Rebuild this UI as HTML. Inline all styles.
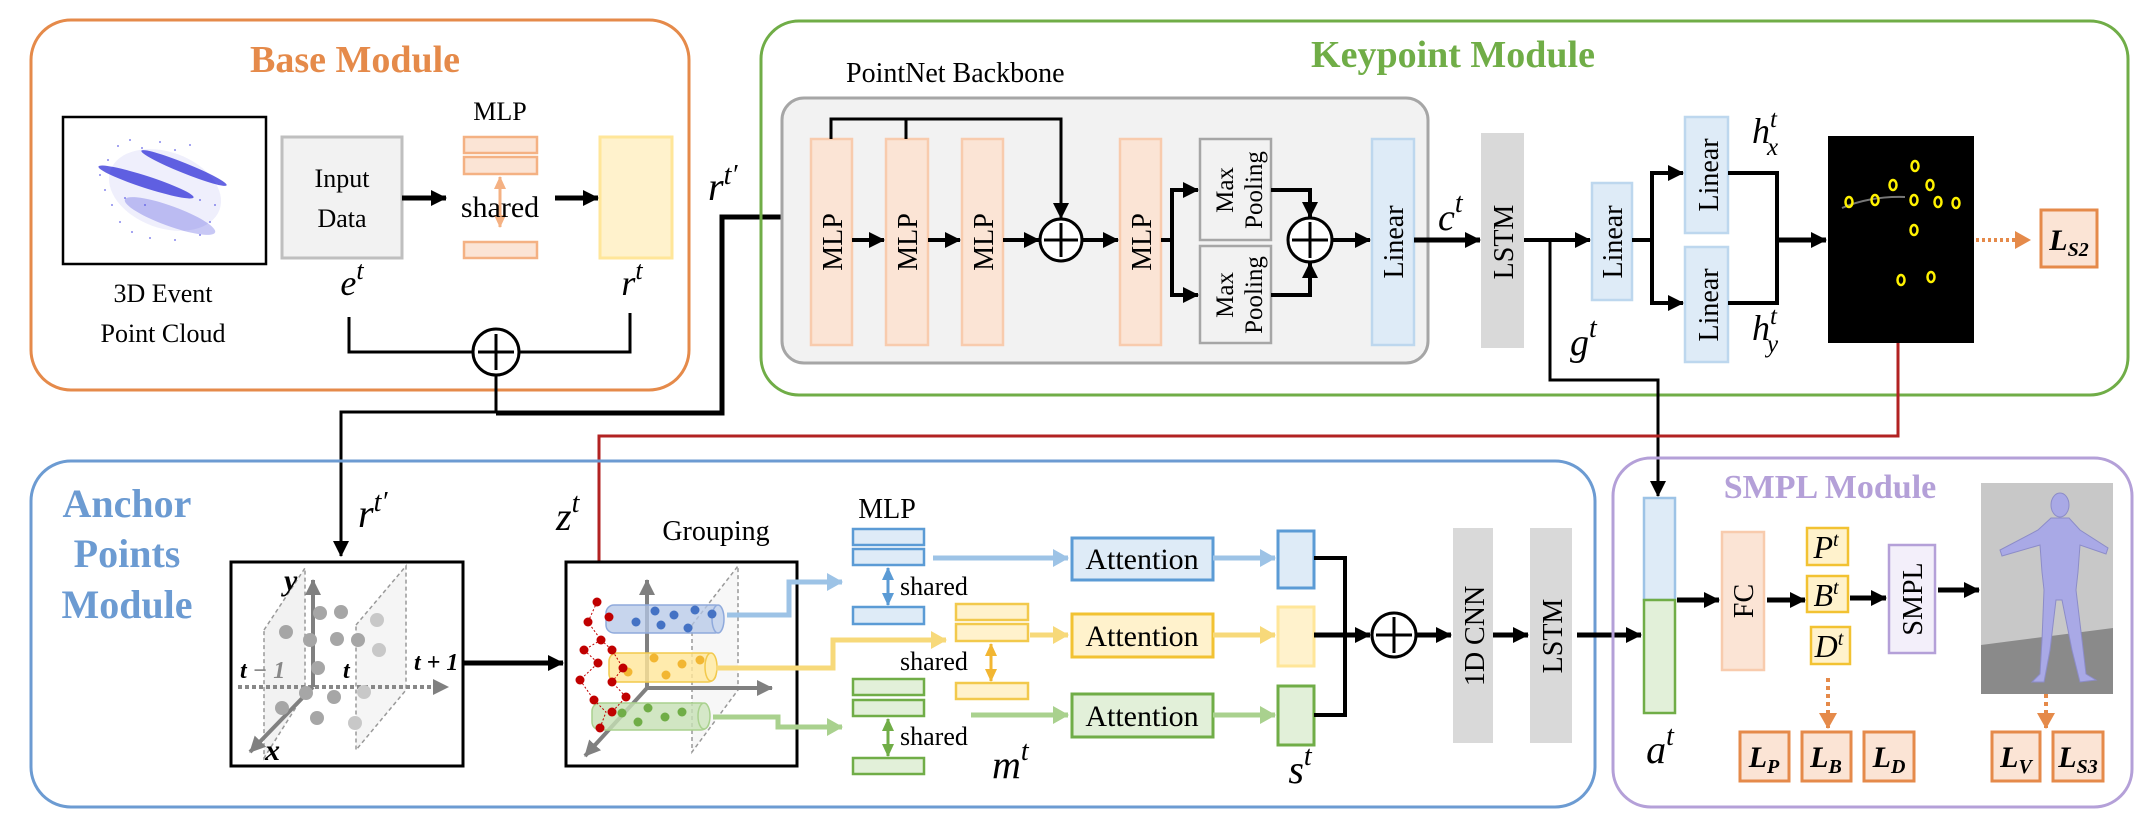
<!DOCTYPE html>
<html><head><meta charset="utf-8"><style>
html,body{margin:0;padding:0;background:#fff}
svg{display:block}
svg, text{font-family:"Liberation Serif",serif}
.m{font-style:italic}
</style></head><body>
<svg width="2156" height="826" viewBox="0 0 2156 826" xmlns="http://www.w3.org/2000/svg" font-family="Liberation Serif, serif">
<defs>
<marker id="a" markerUnits="userSpaceOnUse" markerWidth="18" markerHeight="18" refX="15" refY="9" orient="auto"><path d="M0,1 L16,9 L0,17 z" fill="#000"/></marker>
<marker id="ar" markerUnits="userSpaceOnUse" markerWidth="16" markerHeight="16" refX="13" refY="8" orient="auto"><path d="M0,1 L14,8 L0,15 z" fill="#B22222"/></marker>
<marker id="ao" markerUnits="userSpaceOnUse" markerWidth="18" markerHeight="20" refX="15" refY="10" orient="auto"><path d="M0,1 L16,10 L0,19 z" fill="#E58A4A"/></marker>
<marker id="ab" markerUnits="userSpaceOnUse" markerWidth="18" markerHeight="20" refX="15" refY="10" orient="auto"><path d="M0,1 L16,10 L0,19 z" fill="#9DC3E6"/></marker>
<marker id="ay" markerUnits="userSpaceOnUse" markerWidth="18" markerHeight="20" refX="15" refY="10" orient="auto"><path d="M0,1 L16,10 L0,19 z" fill="#F7D97A"/></marker>
<marker id="ag" markerUnits="userSpaceOnUse" markerWidth="18" markerHeight="20" refX="15" refY="10" orient="auto"><path d="M0,1 L16,10 L0,19 z" fill="#A9D18E"/></marker>
<marker id="ag2" markerUnits="userSpaceOnUse" markerWidth="18" markerHeight="18" refX="15" refY="9" orient="auto"><path d="M0,1 L16,9 L0,17 z" fill="#808080"/></marker>
<marker id="dB" markerUnits="userSpaceOnUse" markerWidth="14" markerHeight="14" refX="12" refY="7" orient="auto"><path d="M0,1 L13,7 L0,13 z" fill="#5B9BD5"/></marker>
<marker id="dY" markerUnits="userSpaceOnUse" markerWidth="14" markerHeight="14" refX="12" refY="7" orient="auto"><path d="M0,1 L13,7 L0,13 z" fill="#F2B632"/></marker>
<marker id="dG" markerUnits="userSpaceOnUse" markerWidth="14" markerHeight="14" refX="12" refY="7" orient="auto"><path d="M0,1 L13,7 L0,13 z" fill="#70AD47"/></marker>
<marker id="dO" markerUnits="userSpaceOnUse" markerWidth="14" markerHeight="14" refX="12" refY="7" orient="auto"><path d="M0,1 L13,7 L0,13 z" fill="#F4B183"/></marker>
</defs>

<!-- ============ BASE MODULE ============ -->
<rect x="31" y="20" width="658" height="370" rx="40" fill="#fff" stroke="#E58A4A" stroke-width="3"/>
<text x="355" y="72" font-size="38" font-weight="bold" fill="#E58A4A" text-anchor="middle">Base Module</text>
<rect x="63" y="117" width="203" height="147" fill="#fff" stroke="#000" stroke-width="2.5"/>
<g fill="#2323d6">
<ellipse cx="184" cy="168" rx="46" ry="5" transform="rotate(22 184 168)" opacity="0.7"/>
<ellipse cx="146" cy="182" rx="50" ry="6" transform="rotate(18 146 182)" opacity="0.7"/>
<ellipse cx="170" cy="216" rx="48" ry="10" transform="rotate(20 170 216)" opacity="0.25"/>
<ellipse cx="165" cy="190" rx="58" ry="38" transform="rotate(20 165 190)" opacity="0.07"/>
</g>
<g fill="#3a3ae0" opacity="0.6">
<circle cx="118" cy="146" r="1"/><circle cx="130" cy="140" r="1"/><circle cx="142" cy="148" r="1"/><circle cx="108" cy="160" r="1"/><circle cx="160" cy="142" r="1"/><circle cx="175" cy="150" r="1"/><circle cx="112" cy="205" r="1"/><circle cx="120" cy="222" r="1"/><circle cx="132" cy="232" r="1"/><circle cx="150" cy="238" r="1"/><circle cx="175" cy="240" r="1"/><circle cx="200" cy="235" r="1"/><circle cx="210" cy="222" r="1"/><circle cx="105" cy="190" r="1"/><circle cx="200" cy="200" r="1"/><circle cx="215" cy="205" r="1"/><circle cx="145" cy="205" r="1"/><circle cx="125" cy="198" r="1"/><circle cx="190" cy="145" r="1"/><circle cx="100" cy="175" r="1"/>
</g>
<text x="163" y="302" font-size="26" text-anchor="middle">3D Event</text>
<text x="163" y="342" font-size="26" text-anchor="middle">Point Cloud</text>

<rect x="282" y="137" width="120" height="121" fill="#F2F2F2" stroke="#BFBFBF" stroke-width="3"/>
<text x="342" y="187" font-size="26" text-anchor="middle">Input</text>
<text x="342" y="227" font-size="26" text-anchor="middle">Data</text>
<text x="500" y="120" font-size="26" text-anchor="middle">MLP</text>
<g fill="#FBE4D5" stroke="#F4B183" stroke-width="2.5">
<rect x="464" y="137" width="73" height="16"/><rect x="464" y="157" width="73" height="17"/><rect x="464" y="242" width="73" height="16"/>
</g>
<line x1="500" y1="190" x2="500" y2="227" stroke="#F4B183" stroke-width="3" marker-end="url(#dO)"/>
<line x1="500" y1="200" x2="500" y2="177" stroke="#F4B183" stroke-width="3" marker-end="url(#dO)"/>
<text x="500" y="217" font-size="30" text-anchor="middle">shared</text>
<line x1="402" y1="198" x2="446" y2="198" stroke="#000" stroke-width="5" marker-end="url(#a)"/>
<line x1="555" y1="198" x2="598" y2="198" stroke="#000" stroke-width="5" marker-end="url(#a)"/>
<rect x="600" y="137" width="72" height="121" fill="#FFF2CC" stroke="#FFE699" stroke-width="3"/>
<text x="352" y="295" font-size="36" class="m" text-anchor="middle">e<tspan dy="-16" font-size="26">t</tspan></text>
<text x="632" y="295" font-size="36" class="m" text-anchor="middle">r<tspan dy="-16" font-size="26">t</tspan></text>
<polyline points="349,317 349,352 630,352 630,313" fill="none" stroke="#000" stroke-width="3"/>
<circle cx="496" cy="352" r="23" fill="#fff" stroke="#000" stroke-width="3"/>
<path d="M496,334 V370 M478,352 H514" stroke="#000" stroke-width="3"/>
<line x1="496" y1="375" x2="496" y2="412" stroke="#000" stroke-width="3"/>
<polyline points="496,412 341,412 341,556" fill="none" stroke="#000" stroke-width="3" marker-end="url(#a)"/>
<polyline points="496,413 722,413 722,217 798,217" fill="none" stroke="#000" stroke-width="5" marker-end="url(#a)"/>
<text x="708" y="200" font-size="40" class="m">r<tspan dy="-16" font-size="28">t′</tspan></text>

<!-- ============ KEYPOINT MODULE ============ -->
<rect x="761" y="21" width="1367" height="374" rx="38" fill="none" stroke="#70AD47" stroke-width="3"/>
<text x="1453" y="67" font-size="38" font-weight="bold" fill="#70AD47" text-anchor="middle">Keypoint Module</text>
<text x="846" y="82" font-size="28">PointNet Backbone</text>
<rect x="782" y="98" width="646" height="265" rx="22" fill="#F2F2F2" stroke="#A6A6A6" stroke-width="3"/>
<g fill="#FBE4D5" stroke="#F8CBAD" stroke-width="2.5">
<rect x="811" y="139" width="41" height="206"/><rect x="886" y="139" width="42" height="206"/><rect x="962" y="139" width="41" height="206"/><rect x="1120" y="139" width="41" height="206"/>
</g>
<g font-size="28" text-anchor="middle">
<text transform="translate(842,242) rotate(-90)">MLP</text>
<text transform="translate(917,242) rotate(-90)">MLP</text>
<text transform="translate(993,242) rotate(-90)">MLP</text>
<text transform="translate(1151,242) rotate(-90)">MLP</text>
</g>
<line x1="852" y1="240" x2="884" y2="240" stroke="#000" stroke-width="4" marker-end="url(#a)"/>
<line x1="928" y1="240" x2="960" y2="240" stroke="#000" stroke-width="4" marker-end="url(#a)"/>
<line x1="1003" y1="240" x2="1039" y2="240" stroke="#000" stroke-width="4" marker-end="url(#a)"/>
<polyline points="831,139 831,119 1061,119 1061,218" fill="none" stroke="#000" stroke-width="3" marker-end="url(#a)"/>
<line x1="906" y1="119" x2="906" y2="139" stroke="#000" stroke-width="3"/>
<circle cx="1061" cy="240" r="21" fill="#fff" stroke="#000" stroke-width="3"/>
<path d="M1061,223 V257 M1044,240 H1078" stroke="#000" stroke-width="3"/>
<line x1="1082" y1="240" x2="1118" y2="240" stroke="#000" stroke-width="4" marker-end="url(#a)"/>
<rect x="1200" y="139" width="71" height="101" fill="#F2F2F2" stroke="#A6A6A6" stroke-width="2.5"/>
<rect x="1200" y="246" width="71" height="97" fill="#F2F2F2" stroke="#A6A6A6" stroke-width="2.5"/>
<g font-size="25" text-anchor="middle">
<text transform="translate(1233,190) rotate(-90)">Max</text>
<text transform="translate(1262,190) rotate(-90)">Pooling</text>
<text transform="translate(1233,295) rotate(-90)">Max</text>
<text transform="translate(1262,295) rotate(-90)">Pooling</text>
</g>
<polyline points="1161,240 1172,240" stroke="#000" stroke-width="4"/>
<polyline points="1198,190 1172,190 1172,295 1198,295" fill="none" stroke="#000" stroke-width="4"/>
<line x1="1172" y1="190" x2="1198" y2="190" stroke="#000" stroke-width="4" marker-end="url(#a)"/>
<line x1="1172" y1="295" x2="1198" y2="295" stroke="#000" stroke-width="4" marker-end="url(#a)"/>
<polyline points="1271,190 1310,190 1310,217" fill="none" stroke="#000" stroke-width="4" marker-end="url(#a)"/>
<polyline points="1271,295 1310,295 1310,263" fill="none" stroke="#000" stroke-width="4" marker-end="url(#a)"/>
<circle cx="1310" cy="240" r="22" fill="#fff" stroke="#000" stroke-width="3"/>
<path d="M1310,222 V258 M1292,240 H1328" stroke="#000" stroke-width="3"/>
<line x1="1332" y1="240" x2="1370" y2="240" stroke="#000" stroke-width="4" marker-end="url(#a)"/>
<rect x="1372" y="139" width="42" height="206" fill="#DEEBF7" stroke="#BDD7EE" stroke-width="2.5"/>
<text transform="translate(1403,242) rotate(-90)" font-size="28" text-anchor="middle">Linear</text>
<text x="1438" y="230" font-size="38" class="m">c<tspan dy="-18" font-size="28">t</tspan></text>
<line x1="1414" y1="240" x2="1480" y2="240" stroke="#000" stroke-width="5" marker-end="url(#a)"/>
<rect x="1481" y="133" width="43" height="215" fill="#D9D9D9"/>
<text transform="translate(1513,242) rotate(-90)" font-size="28" text-anchor="middle">LSTM</text>
<line x1="1524" y1="240" x2="1590" y2="240" stroke="#000" stroke-width="4" marker-end="url(#a)"/>
<rect x="1592" y="183" width="40" height="117" fill="#DEEBF7" stroke="#BDD7EE" stroke-width="2.5"/>
<text transform="translate(1622,242) rotate(-90)" font-size="28" text-anchor="middle">Linear</text>
<polyline points="1632,240 1652,240" stroke="#000" stroke-width="4"/>
<polyline points="1683,173 1652,173 1652,303 1683,303" fill="none" stroke="#000" stroke-width="4"/>
<line x1="1652" y1="173" x2="1683" y2="173" stroke="#000" stroke-width="4" marker-end="url(#a)"/>
<line x1="1652" y1="303" x2="1683" y2="303" stroke="#000" stroke-width="4" marker-end="url(#a)"/>
<rect x="1685" y="117" width="43" height="116" fill="#DEEBF7" stroke="#BDD7EE" stroke-width="2.5"/>
<rect x="1685" y="247" width="43" height="115" fill="#DEEBF7" stroke="#BDD7EE" stroke-width="2.5"/>
<text transform="translate(1718,175) rotate(-90)" font-size="28" text-anchor="middle">Linear</text>
<text transform="translate(1718,305) rotate(-90)" font-size="28" text-anchor="middle">Linear</text>
<text x="1752" y="143" font-size="36" class="m">h<tspan dy="-16" font-size="25">t</tspan><tspan dx="-10" dy="28" font-size="25">x</tspan></text>
<text x="1752" y="340" font-size="36" class="m">h<tspan dy="-16" font-size="25">t</tspan><tspan dx="-10" dy="28" font-size="25">y</tspan></text>
<polyline points="1728,173 1777,173 1777,303 1728,303" fill="none" stroke="#000" stroke-width="4"/>
<line x1="1777" y1="240" x2="1826" y2="240" stroke="#000" stroke-width="5" marker-end="url(#a)"/>
<rect x="1828" y="136" width="146" height="207" fill="#000"/>
<path d="M1842,208 Q1870,196 1905,197" stroke="#777" stroke-width="2" fill="none"/>
<g fill="none" stroke="#FFF200" stroke-width="2.5">
<ellipse cx="1915" cy="166" rx="3.5" ry="5"/><ellipse cx="1893" cy="185" rx="3.5" ry="5"/><ellipse cx="1930" cy="185" rx="3.5" ry="5"/><ellipse cx="1849" cy="202" rx="3.5" ry="5"/><ellipse cx="1875" cy="200" rx="3.5" ry="5"/><ellipse cx="1914" cy="200" rx="3.5" ry="5"/><ellipse cx="1938" cy="202" rx="3.5" ry="5"/><ellipse cx="1956" cy="203" rx="3.5" ry="5"/><ellipse cx="1914" cy="230" rx="3.5" ry="5"/><ellipse cx="1901" cy="280" rx="3.5" ry="5"/><ellipse cx="1931" cy="277" rx="3.5" ry="5"/>
</g>
<line x1="1976" y1="240" x2="2030" y2="240" stroke="#E58A4A" stroke-width="4" stroke-dasharray="3,3" marker-end="url(#ao)"/>
<rect x="2041" y="210" width="56" height="57" fill="#FBE4D5" stroke="#E58A4A" stroke-width="3"/>
<text x="2069" y="250" font-size="30" class="m" font-weight="bold" text-anchor="middle">L<tspan dy="6" font-size="20">S2</tspan></text>
<text x="1570" y="355" font-size="38" class="m">g<tspan dy="-18" font-size="28">t</tspan></text>
<polyline points="1550,240 1550,380 1658,380 1658,496" fill="none" stroke="#000" stroke-width="3" marker-end="url(#a)"/>
<polyline points="1898,343 1898,436 599,436 599,586" fill="none" stroke="#B22222" stroke-width="3" marker-end="url(#ar)"/>

<!-- ============ ANCHOR POINTS MODULE ============ -->
<rect x="31" y="461" width="1564" height="346" rx="40" fill="none" stroke="#6C9BD2" stroke-width="3"/>
<g font-size="40" font-weight="bold" fill="#6C9BD2" text-anchor="middle">
<text x="127" y="517">Anchor</text><text x="127" y="567">Points</text><text x="127" y="618">Module</text>
</g>
<text x="358" y="527" font-size="40" class="m">r<tspan dy="-16" font-size="28">t′</tspan></text>
<text x="556" y="530" font-size="40" class="m">z<tspan dy="-18" font-size="28">t</tspan></text>
<rect x="231" y="562" width="232" height="204" fill="#fff" stroke="#000" stroke-width="3"/>
<polygon points="264,630 305,568 305,693 264,758" fill="#F2F2F2" stroke="#999" stroke-width="1.5" stroke-dasharray="4,3"/>
<polygon points="356,625 406,566 406,690 356,750" fill="#F5F5F5" stroke="#999" stroke-width="1.5" stroke-dasharray="4,3"/>
<line x1="238" y1="687" x2="448" y2="687" stroke="#888" stroke-width="4" stroke-dasharray="4,3" marker-end="url(#ag2)"/>
<line x1="313" y1="687" x2="313" y2="580" stroke="#808080" stroke-width="4" marker-end="url(#ag2)"/>
<line x1="313" y1="687" x2="250" y2="752" stroke="#808080" stroke-width="4" marker-end="url(#ag2)"/>
<g fill="#A6A6A6">
<circle cx="320" cy="613" r="7"/><circle cx="341" cy="612" r="7"/><circle cx="286" cy="632" r="7"/><circle cx="310" cy="640" r="7"/><circle cx="337" cy="639" r="7"/><circle cx="358" cy="640" r="7"/><circle cx="377" cy="620" r="7" fill="#C8C8C8"/><circle cx="379" cy="650" r="7" fill="#C8C8C8"/><circle cx="318" cy="668" r="7"/><circle cx="306" cy="693" r="7"/><circle cx="334" cy="697" r="7"/><circle cx="364" cy="692" r="7" fill="#C8C8C8"/><circle cx="282" cy="708" r="7"/><circle cx="317" cy="718" r="7"/><circle cx="355" cy="723" r="7" fill="#C8C8C8"/>
</g>
<text x="284" y="590" font-size="30" class="m" font-weight="bold">y</text>
<text x="265" y="760" font-size="30" class="m" font-weight="bold">x</text>
<text x="240" y="678" font-size="24" class="m" font-weight="bold">t <tspan fill="#888">− 1</tspan></text>
<text x="343" y="678" font-size="24" class="m" font-weight="bold">t</text>
<text x="414" y="670" font-size="24" class="m" font-weight="bold">t + 1</text>
<line x1="463" y1="663" x2="563" y2="663" stroke="#000" stroke-width="5" marker-end="url(#a)"/>
<text x="716" y="540" font-size="28" text-anchor="middle">Grouping</text>
<rect x="566" y="562" width="231" height="204" fill="#fff" stroke="#000" stroke-width="3"/>
<polygon points="692,625 738,566 738,690 692,752" fill="#F7F7F7" stroke="#999" stroke-width="1.5" stroke-dasharray="4,3"/>
<line x1="647" y1="688" x2="772" y2="688" stroke="#808080" stroke-width="4" marker-end="url(#ag2)"/>
<line x1="647" y1="688" x2="647" y2="580" stroke="#808080" stroke-width="4" marker-end="url(#ag2)"/>
<line x1="647" y1="688" x2="585" y2="756" stroke="#808080" stroke-width="4" marker-end="url(#ag2)"/>
<g stroke-width="1.5">
<rect x="606" y="605" width="117" height="28" rx="8" fill="#B4C7E7" fill-opacity="0.75" stroke="#8FAADC"/>
<ellipse cx="718" cy="619" rx="6" ry="14" fill="#C9D7EE" stroke="#8FAADC"/>
<rect x="609" y="653" width="107" height="29" rx="8" fill="#FFE699" fill-opacity="0.8" stroke="#F2C94C"/>
<ellipse cx="711" cy="667" rx="6" ry="14" fill="#FFEDB0" stroke="#F2C94C"/>
<rect x="592" y="703" width="117" height="27" rx="8" fill="#C5E0B4" fill-opacity="0.8" stroke="#A9D18E"/>
<ellipse cx="704" cy="716" rx="6" ry="13" fill="#D5E8C8" stroke="#A9D18E"/>
</g>
<g fill="#4472C4"><circle cx="636" cy="622" r="4.5"/><circle cx="655" cy="611" r="4.5"/><circle cx="661" cy="625" r="4.5"/><circle cx="674" cy="615" r="4.5"/><circle cx="688" cy="628" r="4.5"/><circle cx="695" cy="610" r="4.5"/><circle cx="712" cy="614" r="4.5"/></g>
<g fill="#F2B632"><circle cx="628" cy="672" r="4.5"/><circle cx="654" cy="658" r="4.5"/><circle cx="666" cy="675" r="4.5"/><circle cx="682" cy="664" r="4.5"/><circle cx="700" cy="660" r="4.5"/></g>
<g fill="#70AD47"><circle cx="622" cy="713" r="4.5"/><circle cx="638" cy="722" r="4.5"/><circle cx="648" cy="708" r="4.5"/><circle cx="665" cy="717" r="4.5"/><circle cx="682" cy="712" r="4.5"/></g>
<polyline points="597,602 588,622 601,640 584,650 598,663 580,680 594,700 606,712 600,728" fill="none" stroke="#C00000" stroke-width="1" stroke-dasharray="2,2"/>
<polyline points="601,640 612,650 623,668 612,682 626,697 612,712" fill="none" stroke="#C00000" stroke-width="1" stroke-dasharray="2,2"/>
<g fill="#C00000"><circle cx="597" cy="602" r="4.5"/><circle cx="588" cy="622" r="4.5"/><circle cx="601" cy="640" r="4.5"/><circle cx="584" cy="650" r="4.5"/><circle cx="612" cy="650" r="4.5"/><circle cx="598" cy="663" r="4.5"/><circle cx="623" cy="668" r="4.5"/><circle cx="580" cy="680" r="4.5"/><circle cx="612" cy="682" r="4.5"/><circle cx="626" cy="697" r="4.5"/><circle cx="594" cy="700" r="4.5"/><circle cx="612" cy="712" r="4.5"/><circle cx="600" cy="728" r="4.5"/><circle cx="609" cy="617" r="4.5"/></g>
<polyline points="727,615 789,615 789,582 842,582" fill="none" stroke="#9DC3E6" stroke-width="5" marker-end="url(#ab)"/>
<polyline points="716,668 833,668 833,640 946,640" fill="none" stroke="#F7D97A" stroke-width="5" marker-end="url(#ay)"/>
<polyline points="713,717 778,717 778,727 842,727" fill="none" stroke="#A9D18E" stroke-width="5" marker-end="url(#ag)"/>
<text x="887" y="518" font-size="28" text-anchor="middle">MLP</text>
<g fill="#DEEBF7" stroke="#5B9BD5" stroke-width="2.5"><rect x="853" y="529" width="71" height="16"/><rect x="853" y="549" width="71" height="16"/><rect x="853" y="607" width="71" height="17"/></g>
<g fill="#FFF2CC" stroke="#F2C94C" stroke-width="2.5"><rect x="956" y="604" width="72" height="16"/><rect x="956" y="624" width="72" height="17"/><rect x="956" y="683" width="72" height="16"/></g>
<g fill="#E2F0D9" stroke="#70AD47" stroke-width="2.5"><rect x="853" y="679" width="71" height="16"/><rect x="853" y="700" width="71" height="16"/><rect x="853" y="758" width="71" height="16"/></g>
<line x1="888" y1="580" x2="888" y2="568" stroke="#5B9BD5" stroke-width="3" marker-end="url(#dB)"/><line x1="888" y1="575" x2="888" y2="605" stroke="#5B9BD5" stroke-width="3" marker-end="url(#dB)"/>
<line x1="991" y1="655" x2="991" y2="644" stroke="#F2B632" stroke-width="3" marker-end="url(#dY)"/><line x1="991" y1="650" x2="991" y2="681" stroke="#F2B632" stroke-width="3" marker-end="url(#dY)"/>
<line x1="888" y1="730" x2="888" y2="719" stroke="#70AD47" stroke-width="3" marker-end="url(#dG)"/><line x1="888" y1="726" x2="888" y2="756" stroke="#70AD47" stroke-width="3" marker-end="url(#dG)"/>
<g font-size="26"><text x="900" y="595">shared</text><text x="900" y="670">shared</text><text x="900" y="745">shared</text></g>
<text x="992" y="778" font-size="40" class="m">m<tspan dy="-18" font-size="28">t</tspan></text>
<line x1="933" y1="558" x2="1068" y2="558" stroke="#9DC3E6" stroke-width="5" marker-end="url(#ab)"/>
<line x1="1030" y1="635" x2="1068" y2="635" stroke="#F7D97A" stroke-width="5" marker-end="url(#ay)"/>
<line x1="971" y1="715" x2="1068" y2="715" stroke="#A9D18E" stroke-width="5" marker-end="url(#ag)"/>
<rect x="1072" y="538" width="141" height="42" fill="#DEEBF7" stroke="#5B9BD5" stroke-width="3"/>
<rect x="1072" y="614" width="141" height="43" fill="#FFF2CC" stroke="#F2C232" stroke-width="3"/>
<rect x="1072" y="694" width="141" height="43" fill="#E2F0D9" stroke="#70AD47" stroke-width="3"/>
<g font-size="30" text-anchor="middle"><text x="1142" y="569">Attention</text><text x="1142" y="646">Attention</text><text x="1142" y="726">Attention</text></g>
<line x1="1213" y1="558" x2="1275" y2="558" stroke="#9DC3E6" stroke-width="5" marker-end="url(#ab)"/>
<line x1="1213" y1="635" x2="1275" y2="635" stroke="#F7D97A" stroke-width="5" marker-end="url(#ay)"/>
<line x1="1213" y1="715" x2="1275" y2="715" stroke="#A9D18E" stroke-width="5" marker-end="url(#ag)"/>
<rect x="1278" y="531" width="36" height="57" fill="#DEEBF7" stroke="#5B9BD5" stroke-width="3"/>
<rect x="1278" y="607" width="36" height="59" fill="#FFF2CC" stroke="#FFE699" stroke-width="3"/>
<rect x="1278" y="686" width="36" height="59" fill="#E2F0D9" stroke="#70AD47" stroke-width="3"/>
<text x="1300" y="783" font-size="40" class="m" text-anchor="middle">s<tspan dy="-18" font-size="28">t</tspan></text>
<polyline points="1314,558 1345,558 1345,715 1314,715" fill="none" stroke="#000" stroke-width="4"/>
<line x1="1314" y1="635" x2="1370" y2="635" stroke="#000" stroke-width="5" marker-end="url(#a)"/>
<circle cx="1394" cy="635" r="22" fill="#fff" stroke="#000" stroke-width="3"/>
<path d="M1394,617 V653 M1376,635 H1412" stroke="#000" stroke-width="3"/>
<line x1="1416" y1="635" x2="1451" y2="635" stroke="#000" stroke-width="5" marker-end="url(#a)"/>
<rect x="1453" y="528" width="40" height="215" fill="#D9D9D9"/>
<text transform="translate(1484,636) rotate(-90)" font-size="28" text-anchor="middle">1D CNN</text>
<line x1="1493" y1="635" x2="1528" y2="635" stroke="#000" stroke-width="5" marker-end="url(#a)"/>
<rect x="1530" y="528" width="42" height="215" fill="#D9D9D9"/>
<text transform="translate(1562,636) rotate(-90)" font-size="28" text-anchor="middle">LSTM</text>
<line x1="1577" y1="635" x2="1641" y2="635" stroke="#000" stroke-width="5" marker-end="url(#a)"/>

<!-- ============ SMPL MODULE ============ -->
<rect x="1613" y="458" width="519" height="349" rx="38" fill="none" stroke="#B4A0D8" stroke-width="3"/>
<text x="1830" y="498" font-size="34" font-weight="bold" fill="#B4A0D8" text-anchor="middle">SMPL Module</text>
<rect x="1644" y="498" width="31" height="102" fill="#DEEBF7" stroke="#9DC3E6" stroke-width="2.5"/>
<rect x="1644" y="600" width="31" height="113" fill="#E2F0D9" stroke="#70AD47" stroke-width="2.5"/>
<text x="1660" y="763" font-size="40" class="m" text-anchor="middle">a<tspan dy="-18" font-size="28">t</tspan></text>
<line x1="1677" y1="600" x2="1719" y2="600" stroke="#000" stroke-width="5" marker-end="url(#a)"/>
<rect x="1722" y="532" width="42" height="138" fill="#FBE4D5" stroke="#F8CBAD" stroke-width="2.5"/>
<text transform="translate(1753,601) rotate(-90)" font-size="28" text-anchor="middle">FC</text>
<line x1="1767" y1="600" x2="1805" y2="600" stroke="#000" stroke-width="5" marker-end="url(#a)"/>
<g fill="#FFF2CC" stroke="#F2C232" stroke-width="2.5">
<rect x="1807" y="528" width="41" height="37"/><rect x="1807" y="576" width="41" height="36"/><rect x="1811" y="627" width="39" height="37"/>
</g>
<g font-size="32" class="m" text-anchor="middle">
<text x="1826" y="558">P<tspan dy="-12" font-size="20">t</tspan></text>
<text x="1826" y="606">B<tspan dy="-12" font-size="20">t</tspan></text>
<text x="1829" y="657">D<tspan dy="-12" font-size="20">t</tspan></text>
</g>
<line x1="1850" y1="598" x2="1886" y2="598" stroke="#000" stroke-width="5" marker-end="url(#a)"/>
<rect x="1889" y="545" width="46" height="108" fill="#F3EFFA" stroke="#B4A0D8" stroke-width="2.5"/>
<text transform="translate(1922,599) rotate(-90)" font-size="28" text-anchor="middle">SMPL</text>
<line x1="1938" y1="590" x2="1979" y2="590" stroke="#000" stroke-width="5" marker-end="url(#a)"/>
<rect x="1981" y="483" width="132" height="211" fill="#C8C8C8"/>
<polygon points="1981,645 2113,628 2113,694 1981,694" fill="#8A8A8A"/>
<g fill="#A9A9E6" stroke="#8C8CC8" stroke-width="1">
<ellipse cx="2060" cy="505" rx="9" ry="12"/>
<path d="M2051,518 L2069,518 L2080,530 L2108,548 L2106,554 L2080,545 L2078,572 L2076,590 L2082,640 L2086,674 L2096,680 L2080,682 L2072,650 L2062,600 L2056,600 L2050,650 L2044,682 L2032,682 L2040,674 L2042,640 L2044,590 L2042,572 L2040,545 L2002,556 L2000,550 L2038,530 Z"/>
</g>
<line x1="1828" y1="678" x2="1828" y2="728" stroke="#E58A4A" stroke-width="4" stroke-dasharray="4,4" marker-end="url(#ao)"/>
<line x1="2046" y1="694" x2="2046" y2="728" stroke="#E58A4A" stroke-width="4" stroke-dasharray="4,4" marker-end="url(#ao)"/>
<g fill="#FBE4D5" stroke="#E58A4A" stroke-width="3">
<rect x="1740" y="732" width="49" height="49"/><rect x="1802" y="732" width="49" height="49"/><rect x="1864" y="732" width="50" height="49"/><rect x="1992" y="732" width="48" height="49"/><rect x="2053" y="732" width="50" height="49"/>
</g>
<g font-size="30" class="m" font-weight="bold" text-anchor="middle">
<text x="1764" y="767">L<tspan dy="6" font-size="20">P</tspan></text>
<text x="1826" y="767">L<tspan dy="6" font-size="20">B</tspan></text>
<text x="1889" y="767">L<tspan dy="6" font-size="20">D</tspan></text>
<text x="2016" y="767">L<tspan dy="6" font-size="20">V</tspan></text>
<text x="2078" y="767">L<tspan dy="6" font-size="20">S3</tspan></text>
</g>
</svg>
</body></html>
